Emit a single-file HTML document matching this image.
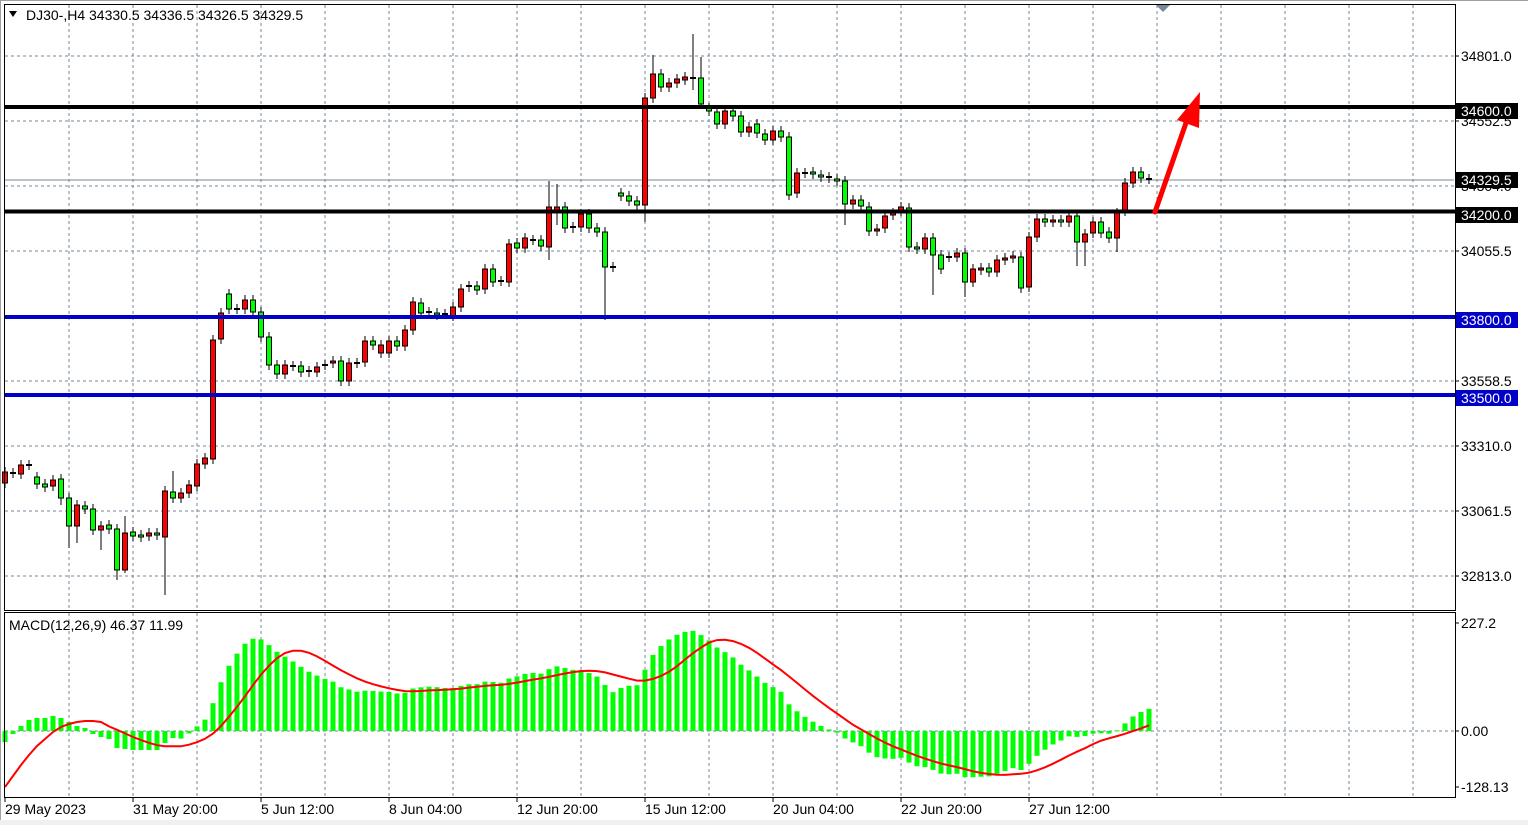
<!DOCTYPE html>
<html><head><meta charset="utf-8"><style>
html,body{margin:0;padding:0;background:#fff;}
svg{display:block;font-family:"Liberation Sans",sans-serif;font-size:14px;}
</style></head><body>
<svg id="s" width="1528" height="825" xmlns="http://www.w3.org/2000/svg"></svg>
<script>
const D=[
[483,472],[473,473],[474,465],[465,465],[477,484],[484,487],[486,480],[479,498,0,505],[498,526,0,548],[526,505,0,543],
[506,509],[509,530],[530,526,0,550],[525,529],[529,570,0,580],[570,533,516,573],[532,536],[535,537],[536,533],[533,535],
[537,491,0,595],[492,498,471],[498,493],[493,485],[486,464],[464,458],[459,340],[339,313],[294,309],[309,309],
[309,300],[300,312],[312,337],[337,365],[365,374],[374,365],[366,366],[366,372],[372,371],[372,367],
[365,365],[363,361],[361,381],[381,363],[363,363],[362,341],[341,345],[353,345],[353,341],[341,346],
[346,330],[330,302],[303,313],[312,312],[313,315],[314,314],[316,307],[307,289],[287,286],[286,290],
[289,269],[269,282],[281,281],[282,244],[243,248],[248,238],[240,240],[240,246],[247,207,181,260],[212,207,184,225],
[207,228],[228,227],[227,214],[214,228],[228,232],[232,267,0,320],[267,267],[193,196],[196,201],[201,205],
[205,98,0,222],[98,74,55],[74,87],[87,83],[83,79],[80,77],[78,78,34,90],[78,104,57],[108,111],[112,124],
[124,111],[111,116],[116,132],[132,127],[124,133],[134,140],[140,131],[131,137],[137,195],[193,173],
[173,173],[172,174],[175,177],[177,178],[179,181],[181,204,0,225],[204,200],[200,206],[207,231],[231,229],
[228,216],[215,213],[211,207],[208,247],[247,249],[249,238],[238,255,0,295],[255,269],[257,257],[257,253],
[253,282,0,297],[282,269],[270,268],[268,272],[272,260],[260,258],[258,256],[257,288],[287,237],[237,219],
[219,222],[222,220],[220,222],[222,216],[216,242,0,266],[242,234,0,266],[233,222],[222,233],[232,238],[238,213,0,252],
[211,183],[183,172],[172,178],[179,179]];
let h='';
for(let k=0;k<22;k++){const x=69+64*k;h+=`<line x1="${x}" y1="5" x2="${x}" y2="609" stroke="#778899" stroke-dasharray="3,3"/>`;h+=`<line x1="${x}" y1="613" x2="${x}" y2="796" stroke="#778899" stroke-dasharray="3,3"/>`;}
const gl=[[56,'34801.0'],[121,'34552.5'],[186,'34304.0'],[251,'34055.5'],[316,''],[381,'33558.5'],[446,'33310.0'],[511,'33061.5'],[576,'32813.0']];
gl.forEach(g=>{h+=`<line x1="5" y1="${g[0]}" x2="1454" y2="${g[0]}" stroke="#778899" stroke-dasharray="3,3"/>`;h+=`<line x1="1455" y1="${g[0]}" x2="1459" y2="${g[0]}" stroke="#000"/>`;if(g[1])h+=`<text x="1461" y="${g[0]+5}">${g[1]}</text>`;});
h+=`<line x1="5" y1="731" x2="1454" y2="731" stroke="#778899" stroke-dasharray="3,3"/>`;
h+=`<line x1="5" y1="180" x2="1454" y2="180" stroke="#778899"/>`;
const cl=[];
D.forEach((d,i)=>{const x=5+8*i;let [o,c,hi,lo]=d;const t=Math.min(o,c),b=Math.max(o,c);hi=hi||t-5;lo=lo||b+5;
h+=`<line x1="${x}" y1="${hi}" x2="${x}" y2="${lo}" stroke="#000"/>`;
if(b-t<2){h+=`<line x1="${x-3}" y1="${t}" x2="${x+3}" y2="${t}" stroke="#000" stroke-width="2"/>`;}
else h+=`<rect x="${x-2.5}" y="${t}" width="5" height="${b-t}" fill="${c<o?'#ff0000':'#00ff00'}" stroke="#000"/>`;
cl.push(34801-(c-56)/0.261569);});
h+=`<line x1="5" y1="107" x2="1455" y2="107" stroke="#000" stroke-width="4"/>`;
h+=`<line x1="5" y1="211.5" x2="1455" y2="211.5" stroke="#000" stroke-width="4"/>`;
h+=`<line x1="5" y1="317" x2="1455" y2="317" stroke="#0000c8" stroke-width="4"/>`;
h+=`<line x1="5" y1="395" x2="1455" y2="395" stroke="#0000c8" stroke-width="4"/>`;
h+=`<line x1="1155" y1="212" x2="1187" y2="120" stroke="#ff0000" stroke-width="5" stroke-linecap="round"/>`;
h+=`<polygon points="1200,92 1199,128 1177,120" fill="#ff0000"/>`;
[[111,'34600.0','#000'],[180,'34329.5','#000'],[215,'34200.0','#000'],[320,'33800.0','#0000c8'],[398,'33500.0','#0000c8']].forEach(l=>{
h+=`<rect x="1456" y="${l[0]-8}" width="62" height="16" fill="${l[2]}"/><text x="1461" y="${l[0]+5}" fill="#fff">${l[1]}</text>`;});
function ema(a,p){const k=2/(p+1);let e=a[0];return a.map(v=>e=v*k+e*(1-k));}
const e12=ema(cl,12),e26=ema(cl,26);let m=cl.map((v,i)=>(e12[i]-e26[i])*0.4754);
const early=[-11,-3,5,11,13,13,15,13,9,5,3,-3,-6,-8,-17,-18,-19,-19,-19,-19,-12,-7,-2,3,10,17];
early.forEach((v,i)=>{if(i<22)m[i]=v;else m[i]=(v+m[i])/2;});
const sEarly=[-56,-45,-34,-24,-15,-8,-1,4,7,9,10,10,9];
const sg=m.map((v,i)=>{if(i<sEarly.length)return sEarly[i];let s=0;for(let j=i-8;j<=i;j++)s+=m[j];return s/9;});
m.forEach((v,i)=>{const x=5+8*i;const y=731-v;h+=`<rect x="${x-2.5}" y="${Math.min(y,731)}" width="5" height="${Math.max(Math.abs(v),1)}" fill="#00ff00"/>`;});
let pts=sg.map((v,i)=>`${5+8*i},${Math.max(614,Math.min(795,731-v)).toFixed(1)}`).join(' ');
h+=`<polyline points="${pts}" fill="none" stroke="#ff0000" stroke-width="2"/>`;
h+=`<rect x="4.5" y="4.5" width="1451" height="606" fill="none" stroke="#000"/>`;
h+=`<rect x="4.5" y="612.5" width="1451" height="185" fill="none" stroke="#000"/>`;
h+=`<line x1="0" y1="0.5" x2="1528" y2="0.5" stroke="#a0a0a0"/><line x1="0.5" y1="0" x2="0.5" y2="825" stroke="#a0a0a0"/>`;
h+=`<rect x="0" y="820" width="1528" height="5" fill="#f0f0f0"/>`;
[[623,'227.2'],[731,'0.00'],[787,'-128.13']].forEach(l=>{h+=`<line x1="1455" y1="${l[0]}" x2="1459" y2="${l[0]}" stroke="#000"/><text x="1461" y="${l[0]+5}">${l[1]}</text>`;});
['29 May 2023','31 May 20:00','5 Jun 12:00','8 Jun 04:00','12 Jun 20:00','15 Jun 12:00','20 Jun 04:00','22 Jun 20:00','27 Jun 12:00'].forEach((t,i)=>{const x=4+128*i;h+=`<line x1="${x+1}" y1="797" x2="${x+1}" y2="802" stroke="#000"/><text x="${x+1}" y="814">${t}</text>`;});
h+=`<polygon points="9,11 17,11 13,17" fill="#000"/><text x="26" y="20">DJ30-,H4  34330.5 34336.5 34326.5 34329.5</text>`;
h+=`<polygon points="1156,5 1170,5 1163,12" fill="#778899"/>`;
h+=`<text x="9" y="630">MACD(12,26,9) 46.37 11.99</text>`;
document.getElementById('s').innerHTML=h;
</script>
</body></html>
